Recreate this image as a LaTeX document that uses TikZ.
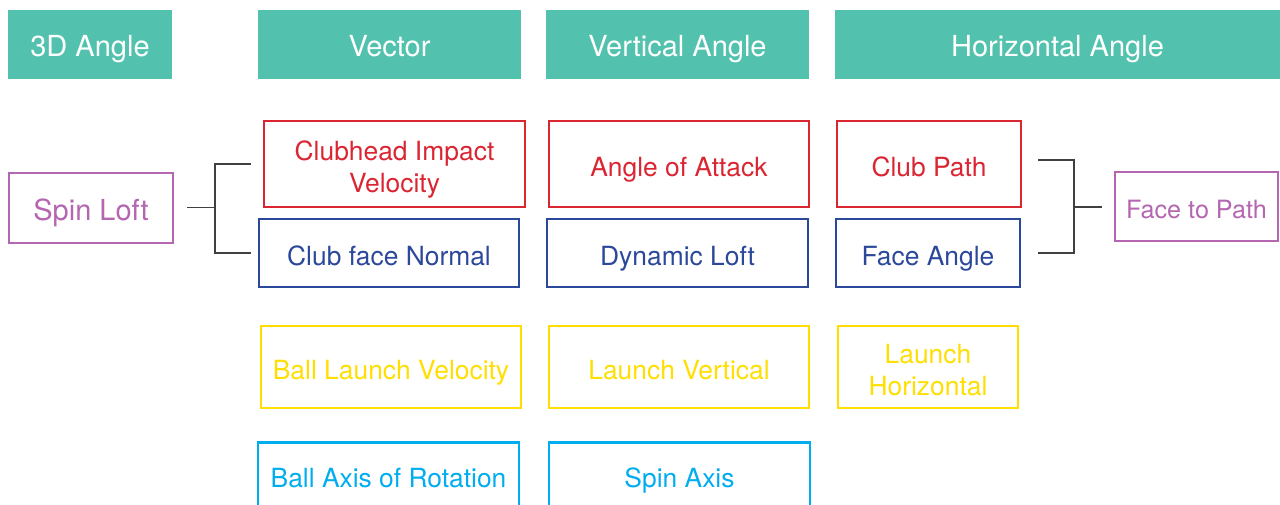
\documentclass[tikz,border=0pt]{standalone}
\usepackage{fontspec}
\setmainfont{TeX Gyre Heros}
\usetikzlibrary{positioning}

\definecolor{hdteal}{RGB}{82,194,174}
\definecolor{clubred}{RGB}{218,37,50}
\definecolor{faceblue}{RGB}{44,72,155}
\definecolor{launchyel}{RGB}{255,222,0}
\definecolor{axiscyan}{RGB}{0,173,238}
\definecolor{loftpurp}{RGB}{181,102,176}
\definecolor{brackgray}{RGB}{64,64,64}

\begin{document}
\begin{tikzpicture}[x=0.5pt, y=-0.5pt,
  header/.style={fill=hdteal, text=white, inner sep=0pt, minimum height=34.5pt,
    text height=12.4pt, text depth=0pt, font=\fontsize{14.5}{17}\selectfont},
  item/.style={draw=#1, text=#1, line width=1.3pt, inner sep=2pt, align=center,
    text height=12.4pt, text depth=0pt, font=\fontsize{13.2}{16}\selectfont},
  twoline/.style={text height=28.4pt},
  bracket/.style={brackgray, line width=0.65pt}]
  \useasboundingbox (0,0) rectangle (1280,504);
  \clip (0,0) rectangle (1280,504);

  % Column headers
  \node[header, minimum width=82pt] (hd3d) at (90,44.5) {3D Angle};
  \node[header, minimum width=131.5pt] (hdvec) at (389.5,44.5) {Vector};
  \node[header, minimum width=131.5pt] (hdvert) at (677.5,44.5) {Vertical Angle};
  \node[header, minimum width=222.5pt] (hdhor) at (1057.5,44.5) {Horizontal Angle};

  % Club row
  \node[item=clubred, twoline, minimum width=130.5pt, minimum height=43pt] (civ) at (394.5,164) {Clubhead Impact\\Velocity};
  \node[item=clubred, minimum width=130pt, minimum height=43pt] (aoa) at (679,164) {Angle of Attack};
  \node[item=clubred, minimum width=92pt, minimum height=43pt] (cpath) at (929,164) {Club Path};

  % Face row
  \node[item=faceblue, minimum width=130pt, minimum height=34pt] (cfn) at (389,253) {Club face Normal};
  \node[item=faceblue, minimum width=130.5pt, minimum height=34pt] (dloft) at (677.5,253) {Dynamic Loft};
  \node[item=faceblue, minimum width=92pt, minimum height=34pt] (fangle) at (928,253) {Face Angle};

  % Launch row
  \node[item=launchyel, minimum width=130pt, minimum height=41pt] (blv) at (391,367) {Ball Launch Velocity};
  \node[item=launchyel, minimum width=130pt, minimum height=41pt] (lvert) at (679,367) {Launch Vertical};
  \node[item=launchyel, twoline, minimum width=90pt, minimum height=41pt] (lhor) at (928,367) {Launch\\Horizontal};

  % Spin row (cut off at the bottom)
  \node[item=axiscyan, minimum width=130.5pt, minimum height=33pt] (bar) at (388.5,475.5) {Ball Axis of Rotation};
  \node[item=axiscyan, minimum width=130.5pt, minimum height=33pt] (saxis) at (679.5,475.5) {Spin Axis};

  % Derived angles
  \node[item=loftpurp, minimum width=82pt, minimum height=35pt, text height=12.4pt, font=\fontsize{14.5}{17}\selectfont] (sloft) at (91,208) {Spin Loft};
  \node[item=loftpurp, minimum width=81.5pt, minimum height=34.5pt, text height=12.1pt, font=\fontsize{12.6}{15}\selectfont] (f2p) at (1196.5,206.5) {Face to Path};

  % Brackets
  \coordinate (jl) at (215,207.5);
  \coordinate (jr) at (1074,207);
  \draw[bracket] ([xshift=6.5pt]sloft.east |- jl) -- (jl);
  \draw[bracket] ([xshift=-6pt]civ.west) -| (jl) |- ([xshift=-3.5pt]cfn.west);
  \draw[bracket] ([xshift=8pt]cpath.east |- 0,160) -| (jr) |- ([xshift=8.5pt]fangle.east);
  \draw[bracket] (jr) -- ([xshift=-6pt]f2p.west |- jr);
\end{tikzpicture}
\end{document}
